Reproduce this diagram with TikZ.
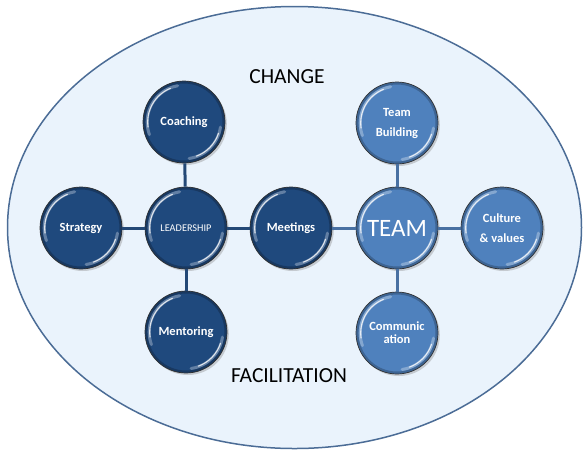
\documentclass[tikz,border=0pt]{standalone}
\usepackage{fontspec}
\setmainfont{Carlito}
\usetikzlibrary{shadows}
\definecolor{darkb}{RGB}{31,73,125}
\definecolor{lightb}{RGB}{79,129,189}
\definecolor{bgfill}{RGB}{234,243,252}
\definecolor{rim}{RGB}{75,108,150}
\definecolor{lnkD}{RGB}{35,72,118}
\definecolor{lnkL}{RGB}{72,112,162}
\begin{document}
\begin{tikzpicture}[x=1pt,y=-1pt,
  ball/.style={circle, minimum size=82pt, inner sep=0pt, draw=black!80, line width=0.7pt,
    text=white, font=\bfseries\fontsize{12.5}{20}\selectfont, align=center,
    drop shadow={shadow xshift=1.8pt, shadow yshift=-2pt, opacity=0.35}},
  dball/.style={ball, fill=darkb},
  lball/.style={ball, fill=lightb},
  dlink/.style={draw=lnkD, line width=3pt},
  llink/.style={draw=lnkL, line width=3pt},
  glossA/.style={white, opacity=0.3, line width=3pt, line cap=round},
  glossB/.style={white, opacity=0.8, line width=1.1pt, line cap=round},
  rimshade/.style={black, opacity=0.22, line width=2.2pt},
  title/.style={font=\fontsize{21.5}{24}\selectfont, text=black}
]
\useasboundingbox (0,0) rectangle (585,456);
\draw[fill=bgfill, draw=rim, line width=1.5pt] (294.5,227.5) ellipse [x radius=287, y radius=221];

\node[title] (change) at (287,77) {CHANGE};
\node[title] (facil) at (289,376) {FACILITATION};

\node[dball] (strategy) at (81,228) {Strategy};
\node[dball, font=\fontsize{10.3}{12}\selectfont] (leader) at (186,228) {LEADERSHIP};
\node[dball] (meet) at (291,228) {Meetings};
\node[lball, font=\fontsize{25}{27}\selectfont] (team) at (397,228) {TEAM};
\node[lball] (culture) at (502,228) {Culture\\\& values};
\node[dball] (coach) at (184,122) {Coaching};
\node[dball] (mentor) at (186,332) {Mentoring};
\node[lball] (tbuild) at (397,123) {Team\\Building};
\node[lball, font=\bfseries\fontsize{12.5}{13}\selectfont] (comm) at (397,333) {Communic\\ation};

\foreach \n in {strategy,leader,meet,team,culture,coach,mentor,tbuild,comm}{
  \draw[rimshade] (\n.center) circle [radius=39.6pt];
  \draw[glossA] ([shift={(100:36.8pt)}]\n.center) arc [start angle=100, end angle=200, radius=36.8pt];
  \draw[glossB] ([shift={(112:36.3pt)}]\n.center) arc [start angle=112, end angle=188, radius=36.3pt];
  \draw[glossA] ([shift={(-8:36.8pt)}]\n.center) arc [start angle=-8, end angle=-82, radius=36.8pt];
  \draw[glossB] ([shift={(-18:36.3pt)}]\n.center) arc [start angle=-18, end angle=-70, radius=36.3pt];
}

\draw[dlink] (strategy) -- (leader);
\draw[dlink] (leader) -- (meet);
\draw[dlink] (coach) -- (leader);
\draw[dlink] (leader) -- (mentor);
\draw[llink] (meet) -- (team);
\draw[llink] (team) -- (culture);
\draw[llink] (tbuild) -- (team);
\draw[llink] (team) -- (comm);
\end{tikzpicture}
\end{document}
